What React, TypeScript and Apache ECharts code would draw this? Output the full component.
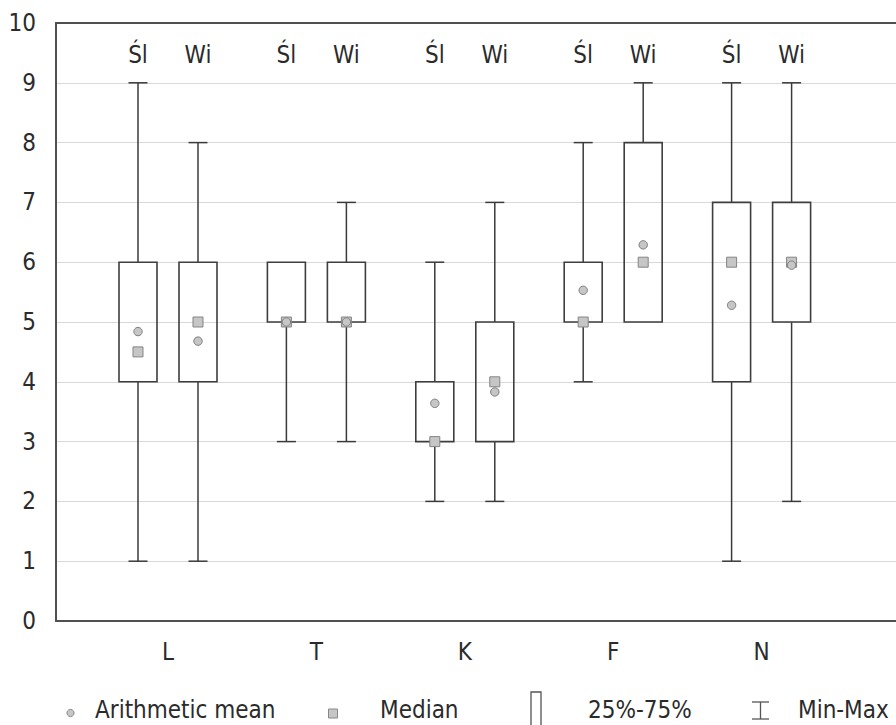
import React, { useEffect, useRef } from "react";
import * as echarts from "echarts";

const categories = ["L", "T", "K", "F", "N"];
const groups = ["Śl", "Wi"];
const yTicks = [0, 1, 2, 3, 4, 5, 6, 7, 8, 9, 10];

// Śl
const minSl = [1, 3, 2, 4, 1];
const q1Sl = [4, 5, 3, 5, 4];
const medSl = [4.5, 5, 3, 5, 6];
const q3Sl = [6, 6, 4, 6, 7];
const maxSl = [9, 6, 6, 8, 9];
const meanSl = [4.84, 5, 3.64, 5.53, 5.28];

// Wi
const minWi = [1, 3, 2, 5, 2];
const q1Wi = [4, 5, 3, 5, 5];
const medWi = [5, 5, 4, 6, 6];
const q3Wi = [6, 6, 5, 8, 7];
const maxWi = [8, 7, 7, 9, 9];
const meanWi = [4.68, 5, 3.83, 6.29, 5.95];

const legendLabels = ["Arithmetic mean", "Median", "25%-75%", "Min-Max"];

const FONT = "'DejaVu Sans Condensed', 'Liberation Sans', sans-serif";
const TXT = "#2b2b2b";
const AXIS = "#505050";

export default function App() {
  const ref = useRef<HTMLDivElement>(null);

  useEffect(() => {
    if (!ref.current) return;
    const chart = echarts.init(ref.current, undefined, { renderer: "svg" });

    const data: number[][] = [];
    categories.forEach((_, i) => {
      data.push([i, 0, minSl[i], q1Sl[i], medSl[i], q3Sl[i], maxSl[i], meanSl[i]]);
      data.push([i, 1, minWi[i], q1Wi[i], medWi[i], q3Wi[i], maxWi[i], meanWi[i]]);
    });

    const lineStyle = { stroke: "#3a3a3a", lineWidth: 1.5 };
    const markerFill = "#c6c6c6";

    const renderItem = (params: any, api: any) => {
      const cat = api.value(0);
      const g = api.value(1);
      const vmin = api.value(2);
      const q1 = api.value(3);
      const med = api.value(4);
      const q3 = api.value(5);
      const vmax = api.value(6);
      const mean = api.value(7);
      const off = g === 0 ? -30 : 30;
      const cx = api.coord([cat + 1, 0])[0] + off;
      const y = (v: number) => api.coord([cat + 1, v])[1];
      const hw = 19;
      const cap = 9.5;
      const children: any[] = [];
      if (vmax > q3) {
        children.push({ type: "line", shape: { x1: cx, y1: y(q3), x2: cx, y2: y(vmax) }, style: lineStyle });
        children.push({ type: "line", shape: { x1: cx - cap, y1: y(vmax), x2: cx + cap, y2: y(vmax) }, style: lineStyle });
      }
      if (vmin < q1) {
        children.push({ type: "line", shape: { x1: cx, y1: y(q1), x2: cx, y2: y(vmin) }, style: lineStyle });
        children.push({ type: "line", shape: { x1: cx - cap, y1: y(vmin), x2: cx + cap, y2: y(vmin) }, style: lineStyle });
      }
      children.push({
        type: "rect",
        shape: { x: cx - hw, y: y(q3), width: hw * 2, height: y(q1) - y(q3) },
        style: { fill: "none", stroke: "#3e3e3e", lineWidth: 1.6 },
      });
      children.push({
        type: "rect",
        shape: { x: cx - 5, y: y(med) - 5, width: 10, height: 10 },
        style: { fill: markerFill, stroke: "#858585", lineWidth: 1 },
      });
      children.push({
        type: "circle",
        shape: { cx: cx, cy: y(mean), r: 4.2 },
        style: { fill: markerFill, stroke: "#7d7d7d", lineWidth: 1 },
      });
      children.push({
        type: "text",
        x: cx,
        y: y(10) + 32,
        style: {
          text: groups[g],
          fill: TXT,
          font: `24px ${FONT}`,
          align: "center",
          verticalAlign: "middle",
        },
      });
      return { type: "group", children };
    };

    const legendY = 710;
    const legendFont = `24px ${FONT}`;
    const graphic: any[] = [
      { type: "circle", shape: { cx: 70.5, cy: 713, r: 3.6 }, style: { fill: markerFill, stroke: "#888", lineWidth: 1 } },
      { type: "text", x: 95, y: legendY, style: { text: legendLabels[0], fill: TXT, font: legendFont, verticalAlign: "middle" } },
      { type: "rect", shape: { x: 328.5, y: 709, width: 9, height: 9 }, style: { fill: markerFill, stroke: "#888", lineWidth: 1 } },
      { type: "text", x: 380, y: legendY, style: { text: legendLabels[1], fill: TXT, font: legendFont, verticalAlign: "middle" } },
      { type: "rect", shape: { x: 531, y: 692, width: 10, height: 40 }, style: { fill: "none", stroke: "#555", lineWidth: 1.3 } },
      { type: "text", x: 588, y: legendY, style: { text: legendLabels[2], fill: TXT, font: legendFont, verticalAlign: "middle" } },
      { type: "line", shape: { x1: 752, y1: 702, x2: 769, y2: 702 }, style: { stroke: "#555", lineWidth: 1.3 } },
      { type: "line", shape: { x1: 760.5, y1: 702, x2: 760.5, y2: 719 }, style: { stroke: "#555", lineWidth: 1.3 } },
      { type: "line", shape: { x1: 752, y1: 719, x2: 769, y2: 719 }, style: { stroke: "#555", lineWidth: 1.3 } },
      { type: "text", x: 798, y: legendY, style: { text: legendLabels[3], fill: TXT, font: legendFont, verticalAlign: "middle" } },
    ];

    const xMin = 0.2453;
    const xMax = 5.9057;

    chart.setOption({
      animation: false,
      backgroundColor: "#ffffff",
      grid: {
        left: 56,
        top: 23,
        right: 0,
        bottom: 104,
        show: false,
      },
      xAxis: [
        {
          type: "value",
          min: xMin,
          max: xMax,
          position: "bottom",
          splitLine: { show: false },
          axisTick: { show: false },
          axisLine: { show: true, lineStyle: { color: AXIS, width: 2 } },
          axisLabel: {
            customValues: [1, 2, 3, 4, 5],
            formatter: (v: number) => categories[Math.round(v) - 1] ?? "",
            margin: 19,
            fontSize: 24,
            fontFamily: FONT,
            color: TXT,
          },
        },
        {
          type: "value",
          min: xMin,
          max: xMax,
          position: "top",
          splitLine: { show: false },
          axisTick: { show: false },
          axisLabel: { show: false },
          axisLine: { show: true, lineStyle: { color: AXIS, width: 2 } },
        },
      ],
      yAxis: {
        type: "value",
        min: 0,
        max: 10,
        interval: 1,
        axisLine: { show: true, lineStyle: { color: AXIS, width: 2 } },
        axisTick: { show: false },
        splitLine: { show: true, lineStyle: { color: "#d9d9d9", width: 1 } },
        axisLabel: {
          margin: 20,
          fontSize: 24,
          fontFamily: FONT,
          color: TXT,
          formatter: (v: number) => (yTicks.includes(v) ? String(v) : ""),
        },
      },
      series: [
        {
          type: "custom",
          renderItem,
          data,
          clip: false,
          xAxisIndex: 0,
          encode: { x: 0, y: [2, 6] },
          z: 5,
        },
      ],
      graphic,
    });

    return () => chart.dispose();
  }, []);

  return (
    <div
      ref={ref}
      style={{ position: "fixed", left: 0, top: 0, width: 896, height: 725, background: "#fff" }}
    />
  );
}
